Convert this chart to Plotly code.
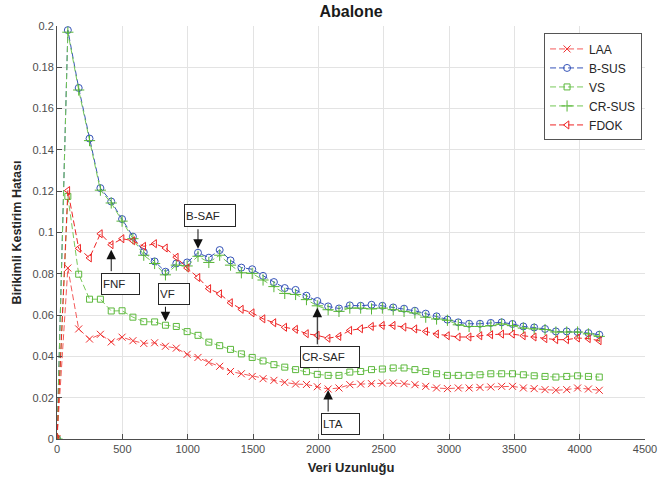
import plotly.graph_objects as go

# ---------------- data ----------------
veri_uzunlugu = [0, 83, 166, 249, 332, 415, 498, 581, 664, 747, 830, 913, 996, 1079,
                 1162, 1245, 1328, 1411, 1494, 1577, 1660, 1743, 1826, 1909, 1992,
                 2075, 2158, 2241, 2324, 2407, 2490, 2573, 2656, 2739, 2822, 2905,
                 2988, 3071, 3154, 3237, 3320, 3403, 3486, 3569, 3652, 3735, 3818,
                 3901, 3984, 4067, 4150]

laa = [0, 0.0828, 0.0533, 0.0484, 0.0507, 0.0470, 0.0493, 0.0476, 0.0463, 0.0466,
       0.0449, 0.0440, 0.0410, 0.0395, 0.0371, 0.0352, 0.0327, 0.0316, 0.0303, 0.0292,
       0.0284, 0.0274, 0.0266, 0.0264, 0.0253, 0.0242, 0.0247, 0.0263, 0.0266, 0.0268,
       0.0271, 0.0271, 0.0268, 0.0263, 0.0255, 0.0247, 0.0244, 0.0247, 0.0247, 0.0250,
       0.0252, 0.0255, 0.0255, 0.0247, 0.0244, 0.0239, 0.0236, 0.0239, 0.0247, 0.0242,
       0.0236]

b_sus = [0, 0.198, 0.170, 0.1455, 0.1215, 0.1150, 0.1065, 0.0980, 0.0905, 0.0860,
         0.0810, 0.0850, 0.0855, 0.0902, 0.0878, 0.0915, 0.0865, 0.0830, 0.0822, 0.0790,
         0.0760, 0.0731, 0.0722, 0.0694, 0.0668, 0.0642, 0.0632, 0.0647, 0.0645, 0.0650,
         0.0645, 0.0637, 0.0631, 0.0621, 0.0607, 0.0594, 0.0578, 0.0565, 0.0558, 0.0558,
         0.0562, 0.0565, 0.0557, 0.0545, 0.0540, 0.0533, 0.0521, 0.0521, 0.0518, 0.0513,
         0.0505]

vs = [0, 0.1175, 0.0798, 0.0677, 0.0677, 0.0620, 0.0621, 0.0590, 0.0568, 0.0567,
      0.0551, 0.0545, 0.0520, 0.0502, 0.0469, 0.0452, 0.0434, 0.0412, 0.0395, 0.0378,
      0.0360, 0.0348, 0.0336, 0.0326, 0.0313, 0.0308, 0.0308, 0.0324, 0.0327, 0.0336,
      0.0339, 0.0344, 0.0344, 0.0336, 0.0327, 0.0316, 0.0308, 0.0308, 0.0308, 0.0311,
      0.0316, 0.0316, 0.0316, 0.0311, 0.0306, 0.0303, 0.0300, 0.0303, 0.0306, 0.0303,
      0.0300]

cr_sus = [0, 0.197, 0.169, 0.1445, 0.1205, 0.1143, 0.1055, 0.0970, 0.0890, 0.0850,
          0.0795, 0.0842, 0.0838, 0.0885, 0.0855, 0.0890, 0.0842, 0.0805, 0.0802, 0.0770,
          0.0738, 0.0705, 0.0700, 0.0675, 0.0645, 0.0626, 0.0618, 0.0634, 0.0634, 0.0630,
          0.0634, 0.0626, 0.0618, 0.0610, 0.0590, 0.0581, 0.0575, 0.0553, 0.0545, 0.0545,
          0.0549, 0.0557, 0.0549, 0.0537, 0.0533, 0.0530, 0.0518, 0.0518, 0.0518, 0.0509,
          0.0497]

fdok = [0, 0.1203, 0.0923, 0.0877, 0.0994, 0.0941, 0.0970, 0.0960, 0.0933, 0.0946,
        0.0925, 0.0880, 0.0828, 0.0782, 0.0728, 0.0703, 0.0660, 0.0628, 0.0611, 0.0582,
        0.0563, 0.0541, 0.0531, 0.0510, 0.0502, 0.0488, 0.0497, 0.0526, 0.0534, 0.0545,
        0.0550, 0.0550, 0.0542, 0.0533, 0.0521, 0.0508, 0.0500, 0.0494, 0.0494, 0.0500,
        0.0505, 0.0508, 0.0508, 0.0500, 0.0494, 0.0486, 0.0481, 0.0481, 0.0489, 0.0486,
        0.0476]

x_ticks = [0, 500, 1000, 1500, 2000, 2500, 3000, 3500, 4000, 4500]
y_ticks = [0, 0.02, 0.04, 0.06, 0.08, 0.1, 0.12, 0.14, 0.16, 0.18, 0.2]
y_tick_labels = ["0", "0.02", "0.04", "0.06", "0.08", "0.1", "0.12", "0.14", "0.16", "0.18", "0.2"]

# ---------------- figure ----------------
FONT = "Liberation Sans, Arial, Helvetica, sans-serif"
DASH = "6px,3px"

series = [
    ("LAA", laa, "#f45a5a", "#f02a2a", "x-thin-open", 7),
    ("B-SUS", b_sus, "#3553b8", "#3553b8", "circle-open", 7),
    ("VS", vs, "#79c95a", "#5cb83c", "square-open", 6),
    ("CR-SUS", cr_sus, "#72c653", "#56b535", "cross-thin-open", 8),
    ("FDOK", fdok, "#ee2424", "#ee2424", "triangle-left-open", 7),
]

fig = go.Figure()
for name, ys, lcol, mcol, sym, msize in series:
    fig.add_trace(go.Scatter(
        x=veri_uzunlugu, y=ys, name=name, mode="lines+markers",
        line=dict(color=lcol, width=1, dash=DASH),
        marker=dict(symbol=sym, size=msize, color=mcol, line=dict(color=mcol, width=1)),
    ))

def box(text, xv, yv, w, h):
    return dict(x=xv, y=yv, xref="x", yref="y", text=text, showarrow=False,
                font=dict(family=FONT, size=11.5, color="#262626"),
                bgcolor="white", bordercolor="#262626", borderwidth=1, borderpad=1,
                width=w, height=h, align="left", valign="middle")

def arrow(xv, yv, ay, standoff):
    return dict(x=xv, y=yv, xref="x", yref="y", text="", showarrow=True,
                ax=0, ay=ay, axref="pixel", ayref="pixel",
                arrowhead=2, arrowsize=1.9, arrowwidth=1, arrowcolor="#111111",
                standoff=standoff)

annotations = [
    box("B-SAF", 1172, 0.1081, 48, 19),
    arrow(veri_uzunlugu[13], b_sus[13], -25, 4),
    box("FNF", 486, 0.0752, 35, 18),
    arrow(veri_uzunlugu[5], fdok[5], 28, 5),
    box("VF", 892, 0.0704, 28, 18),
    arrow(veri_uzunlugu[10], vs[10], -20, 4),
    box("CR-SAF", 2090, 0.0399, 56, 18),
    arrow(veri_uzunlugu[24], cr_sus[24], 40, 2),
    box("LTA", 2166, 0.0074, 35, 18),
    arrow(veri_uzunlugu[25], laa[25], 24, 1),
]

fig.update_layout(
    width=669, height=484,
    margin=dict(l=57, r=24, t=26, b=45, autoexpand=False),
    paper_bgcolor="white", plot_bgcolor="white",
    font=dict(family=FONT, size=11, color="#262626"),
    title=dict(text="<b>Abalone</b>", x=0.5, xref="paper", xanchor="center",
               y=0.977, yanchor="middle", yref="container",
               font=dict(family=FONT, size=16, color="#1a1a1a")),
    legend=dict(x=0.995, y=0.982, xanchor="right", yanchor="top",
                bgcolor="white", bordercolor="#555555", borderwidth=1,
                font=dict(family=FONT, size=12, color="#262626"),
                tracegroupgap=0, itemwidth=34),
    annotations=annotations,
    showlegend=True,
)

fig.update_xaxes(
    range=[0, 4500], tickvals=x_ticks, ticktext=[str(v) for v in x_ticks],
    showgrid=True, gridcolor="#e3e3e3", gridwidth=1, zeroline=False,
    showline=True, linecolor="#4d4d4d", linewidth=1,
    ticks="inside", ticklen=5, tickcolor="#4d4d4d", automargin=False,
    tickfont=dict(family=FONT, size=11, color="#4d4d4d"),
    title=dict(text="<b>Veri Uzunluğu</b>", font=dict(family=FONT, size=13, color="#262626"),
               standoff=8),
)
fig.update_yaxes(
    range=[0, 0.2], tickvals=y_ticks, ticktext=y_tick_labels,
    showgrid=True, gridcolor="#e3e3e3", gridwidth=1, zeroline=False,
    showline=True, linecolor="#4d4d4d", linewidth=1,
    ticks="inside", ticklen=5, tickcolor="#4d4d4d", automargin=False,
    tickfont=dict(family=FONT, size=11, color="#4d4d4d"),
    title=dict(text="<b>Birikimli Kestirim Hatası</b>", font=dict(family=FONT, size=12.5, color="#262626"),
               standoff=8),
)

fig.write_html("out.html", config={"displayModeBar": False},
               post_script="document.body.style.margin='0px';document.body.style.overflow='hidden';")
